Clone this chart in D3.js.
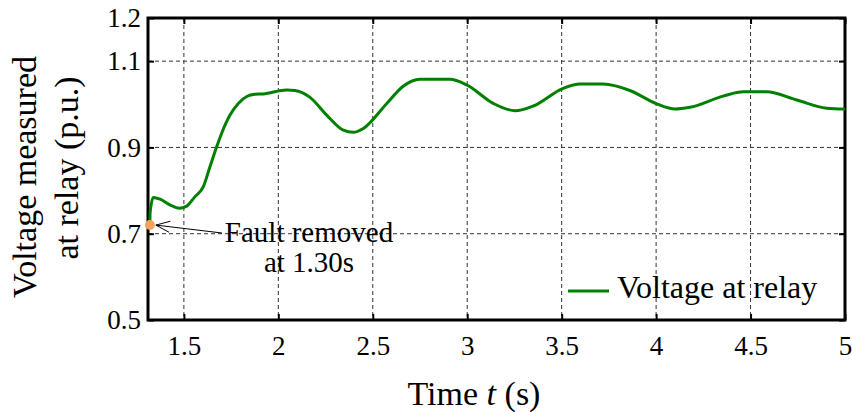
<!DOCTYPE html>
<html><head><meta charset="utf-8">
<script src="https://cdn.jsdelivr.net/npm/d3@7"></script>
<style>body{margin:0;background:#fff}svg{display:block}svg text{font-family:'Liberation Serif','Times New Roman',Times,'DejaVu Serif',serif !important;fill:#000}</style>
</head><body><svg id="c" width="852" height="412"></svg>
<script>
const timeS = [1.32,1.321,1.338,1.374,1.426,1.476,1.515,1.559,1.603,1.638,1.674,1.700,1.744,1.788,1.833,1.876,1.920,2.044,2.088,2.168,2.256,2.344,2.397,2.450,2.574,2.661,2.750,2.909,2.997,3.138,3.253,3.350,3.508,3.597,3.720,3.861,4.003,4.100,4.179,4.355,4.461,4.585,4.744,4.903,5.0];
const voltage = [0.72,0.748,0.784,0.780,0.767,0.759,0.764,0.786,0.809,0.855,0.902,0.933,0.975,1.002,1.018,1.023,1.024,1.033,1.032,1.016,0.975,0.940,0.935,0.944,1.002,1.042,1.058,1.058,1.045,1.002,0.985,0.996,1.037,1.047,1.047,1.032,1.001,0.989,0.993,1.019,1.029,1.029,1.010,0.991,0.989];
const xTicks = [1.5,2,2.5,3,3.5,4,4.5,5];
const xTickLabels = ["1.5","2","2.5","3","3.5","4","4.5","5"];
const yTicks = [0.5,0.7,0.9,1.1,1.2];
const yTickLabels = ["0.5","0.7","0.9","1.1","1.2"];
const yGrid = [0.7,0.9,1.1];
const faultPoint = [1.32, 0.72];
const seriesName = "Voltage at relay";

const FONT = "'Liberation Serif','Times New Roman',Times,serif";
const svg = d3.select("#c");
const L=148,R=845,T=18,B=320;
const x = d3.scaleLinear().domain([1.31,5]).range([L,R]);
const y = d3.scaleLinear().domain([0.5,1.2]).range([B,T]);

// grid
const g = svg.append("g");
g.selectAll(".vg").data(xTicks.filter(d=>d<5)).join("line")
 .attr("x1",d=>x(d)).attr("x2",d=>x(d)).attr("y1",T).attr("y2",B)
 .attr("stroke","#333").attr("stroke-width",1).attr("stroke-dasharray","4,3");
g.selectAll(".hg").data(yGrid).join("line")
 .attr("x1",L).attr("x2",R).attr("y1",d=>y(d)).attr("y2",d=>y(d))
 .attr("stroke","#333").attr("stroke-width",1).attr("stroke-dasharray","4,3");

// axes with inward ticks
const xa = d3.axisBottom(x).tickValues(xTicks).tickFormat((d,i)=>xTickLabels[i]).tickSize(-6).tickPadding(16);
const ya = d3.axisLeft(y).tickValues(yTicks).tickFormat((d,i)=>yTickLabels[i]).tickSize(-6).tickPadding(7);
const gx = svg.append("g").attr("transform",`translate(0,${B})`).call(xa);
const gy = svg.append("g").attr("transform",`translate(${L},0)`).call(ya);
const gxt = svg.append("g").attr("transform",`translate(0,${T})`).call(d3.axisTop(x).tickValues(xTicks).tickSize(-6).tickFormat(""));
const gyr = svg.append("g").attr("transform",`translate(${R},0)`).call(d3.axisRight(y).tickValues(yTicks).tickSize(-6).tickFormat(""));
[gx,gy,gxt,gyr].forEach(a=>{
  a.attr("font-family",FONT).attr("font-size",27);
  a.select(".domain").remove();
  a.selectAll(".tick line").attr("stroke","#000").attr("stroke-width",2);
  a.selectAll(".tick text").attr("fill","#000");
});
gx.selectAll(".tick text").attr("dy","0.71em");
// box
svg.append("rect").attr("x",L).attr("y",T).attr("width",R-L).attr("height",B-T)
 .attr("fill","none").attr("stroke","#000").attr("stroke-width",3);

// line
const line = d3.line().x((d,i)=>x(timeS[i])).y((d,i)=>y(voltage[i])).curve(d3.curveMonotoneX);
svg.append("path").datum(voltage).attr("d",line).attr("fill","none")
 .attr("stroke","#008000").attr("stroke-width",3).attr("stroke-linejoin","round");

// fault point
svg.append("circle").attr("cx",x(faultPoint[0])).attr("cy",y(faultPoint[1])).attr("r",5).attr("fill","#F5A35C");

// annotation arrow
const tipX = x(faultPoint[0])+6, tipY = y(faultPoint[1]);
const sX = 222, sY = 233;
svg.append("line").attr("x1",sX).attr("y1",sY).attr("x2",tipX).attr("y2",tipY).attr("stroke","#000").attr("stroke-width",1);
const ang = Math.atan2(sY-tipY, sX-tipX);
[0.38,-0.38].forEach(a=>{
  svg.append("line").attr("x1",tipX).attr("y1",tipY)
   .attr("x2",tipX+15*Math.cos(ang+a)).attr("y2",tipY+15*Math.sin(ang+a))
   .attr("stroke","#000").attr("stroke-width",1);
});
svg.append("text").attr("x",309).attr("y",242).attr("text-anchor","middle").attr("font-family",FONT).attr("font-size",29).text("Fault removed");
svg.append("text").attr("x",309).attr("y",272).attr("text-anchor","middle").attr("font-family",FONT).attr("font-size",29).text("at 1.30s");

// legend
svg.append("line").attr("x1",568).attr("x2",609).attr("y1",291).attr("y2",291).attr("stroke","#008000").attr("stroke-width",3);
svg.append("text").attr("x",617).attr("y",298).attr("font-family",FONT).attr("font-size",32).text(seriesName);

// axis titles
const xt = svg.append("text").attr("x",474).attr("y",405).attr("text-anchor","middle").attr("font-family",FONT).attr("font-size",34);
xt.append("tspan").text("Time ");
xt.append("tspan").style("font-style","italic").text("t");
xt.append("tspan").text(" (s)");
svg.append("text").attr("transform","translate(36,177) rotate(-90)").attr("text-anchor","middle").attr("font-family",FONT).attr("font-size",34).text("Voltage measured");
svg.append("text").attr("transform","translate(78,168) rotate(-90)").attr("text-anchor","middle").attr("font-family",FONT).attr("font-size",34).text("at relay (p.u.)");
</script></body></html>
